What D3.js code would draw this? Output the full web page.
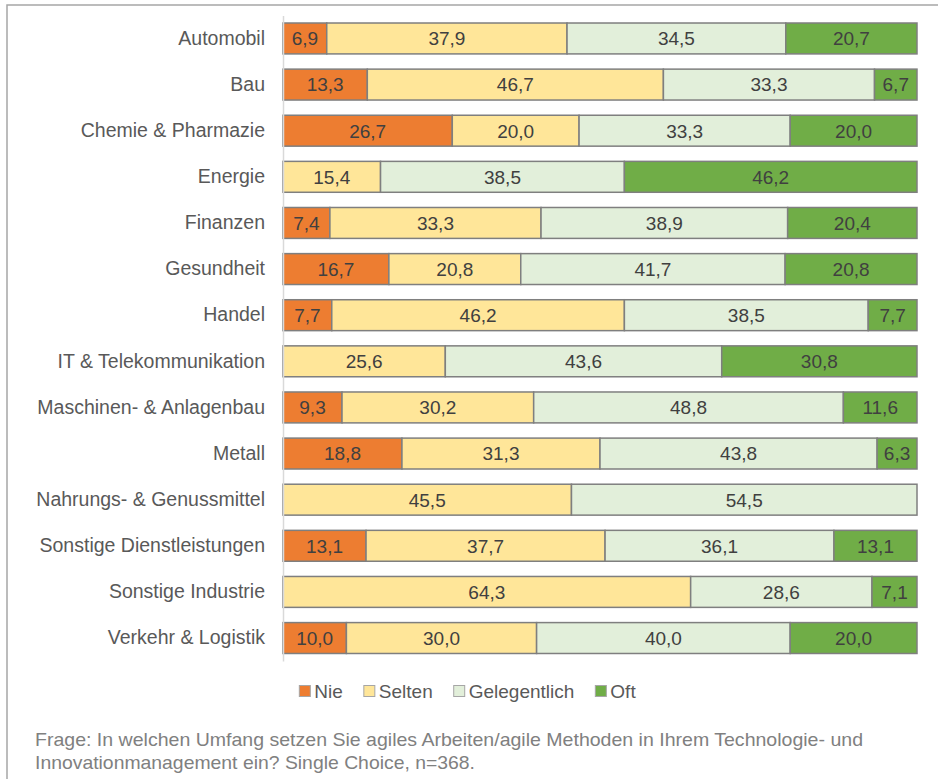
<!DOCTYPE html>
<html>
<head>
<meta charset="utf-8">
<script src="https://cdn.jsdelivr.net/npm/d3@7"></script>
<style>
  body { margin: 0; background: #fff; }
  svg { font-family: "Liberation Sans", Arial, sans-serif; }
</style>
</head>
<body>
<svg id="chart" width="938" height="779"></svg>
<script>
// categories and series
var categories = ["Automobil", "Bau", "Chemie & Pharmazie", "Energie", "Finanzen", "Gesundheit",
  "Handel", "IT & Telekommunikation", "Maschinen- & Anlagenbau", "Metall",
  "Nahrungs- & Genussmittel", "Sonstige Dienstleistungen", "Sonstige Industrie", "Verkehr & Logistik"];
var seriesNames = ["Nie", "Selten", "Gelegentlich", "Oft"];
var nie          = [6.9, 13.3, 26.7, 0,    7.4,  16.7, 7.7,  0,    9.3,  18.8, 0,    13.1, 0,    10.0];
var selten       = [37.9, 46.7, 20.0, 15.4, 33.3, 20.8, 46.2, 25.6, 30.2, 31.3, 45.5, 37.7, 64.3, 30.0];
var gelegentlich = [34.5, 33.3, 33.3, 38.5, 38.9, 41.7, 38.5, 43.6, 48.8, 43.8, 54.5, 36.1, 28.6, 40.0];
var oft          = [20.7, 6.7,  20.0, 46.2, 20.4, 20.8, 7.7,  30.8, 11.6, 6.3,  0,    13.1, 7.1,  20.0];
var colors = ["#ED7D31", "#FFE699", "#E2EFDA", "#70AD47"];
var footer = ["Frage: In welchen Umfang setzen Sie agiles Arbeiten/agile Methoden in Ihrem Technologie- und",
  "Innovationmanagement ein? Single Choice, n=368."];

var rows = categories.map(function(c, i) {
  return { cat: c, "Nie": nie[i], "Selten": selten[i], "Gelegentlich": gelegentlich[i], "Oft": oft[i] };
});

var svg = d3.select("#chart");

// outer frame
svg.append("rect")
  .attr("x", 7).attr("y", 5).attr("width", 960).attr("height", 800)
  .attr("fill", "none").attr("stroke", "#a6a6a6").attr("stroke-width", 1.5);

var x = d3.scaleLinear().domain([0, 1]).range([283, 917]);
var y = d3.scaleBand().domain(categories).range([15.4, 661.1])
  .paddingInner(0.33).paddingOuter(0.165);

var stack = d3.stack().keys(seriesNames).offset(d3.stackOffsetExpand);
var layers = stack(rows);

var fmt = function(v) { return d3.format(".1f")(v).replace(".", ","); };

var g = svg.append("g");
layers.forEach(function(layer, k) {
  var lg = g.append("g");
  lg.selectAll("rect")
    .data(layer.filter(function(d) { return d.data[layer.key] > 0; }))
    .enter().append("rect")
      .attr("x", function(d) { return x(d[0]); })
      .attr("y", function(d) { return y(d.data.cat); })
      .attr("width", function(d) { return x(d[1]) - x(d[0]); })
      .attr("height", y.bandwidth())
      .attr("fill", colors[k])
      .attr("stroke", "#7f7f7f")
      .attr("stroke-width", 1.5);
  lg.selectAll("text")
    .data(layer.filter(function(d) { return d.data[layer.key] > 0; }))
    .enter().append("text")
      .attr("x", function(d) { return (x(d[0]) + x(d[1])) / 2; })
      .attr("y", function(d) { return y(d.data.cat) + y.bandwidth() / 2; })
      .attr("dy", "0.36em")
      .attr("text-anchor", "middle")
      .attr("font-size", 19)
      .attr("fill", "#404040")
      .text(function(d) { return fmt(d.data[layer.key]); });
});

// category axis
var yAxis = svg.append("g")
  .attr("transform", "translate(283,0)")
  .call(d3.axisLeft(y).tickSize(0).tickPadding(18));
yAxis.select(".domain").attr("stroke", "#d9d9d9").attr("stroke-width", 1.5);
yAxis.selectAll("text")
  .attr("font-size", 19.5)
  .attr("font-family", "Liberation Sans, Arial, sans-serif")
  .attr("fill", "#595959");

// legend
var legend = svg.append("g");
var lx = 0;
seriesNames.forEach(function(name, k) {
  var it = legend.append("g");
  it.append("rect").attr("x", 0).attr("y", -5.5).attr("width", 11).attr("height", 11)
    .attr("fill", colors[k]).attr("stroke", "#a6a6a6").attr("stroke-width", 1);
  var t = it.append("text").attr("x", 15).attr("dy", "0.36em")
    .attr("font-size", 19).attr("fill", "#595959").text(name);
  var w = 15 + t.node().getComputedTextLength();
  it.attr("transform", "translate(" + lx + ",0)");
  lx += w + 21;
});
var legendWidth = lx - 21;
legend.attr("transform", "translate(" + (467.5 - legendWidth / 2) + ",691)");

// footer note
var noteWidths = [828, 440];
svg.selectAll(".note")
  .data(footer)
  .enter().append("text")
    .attr("class", "note")
    .attr("x", 35)
    .attr("y", function(d, i) { return 746 + i * 23; })
    .attr("font-size", 19)
    .attr("font-family", "Liberation Sans, Arial, sans-serif")
    .attr("fill", "#808080")
    .attr("textLength", function(d, i) { return noteWidths[i]; })
    .attr("lengthAdjust", "spacingAndGlyphs")
    .text(function(d) { return d; });
</script>
</body>
</html>
